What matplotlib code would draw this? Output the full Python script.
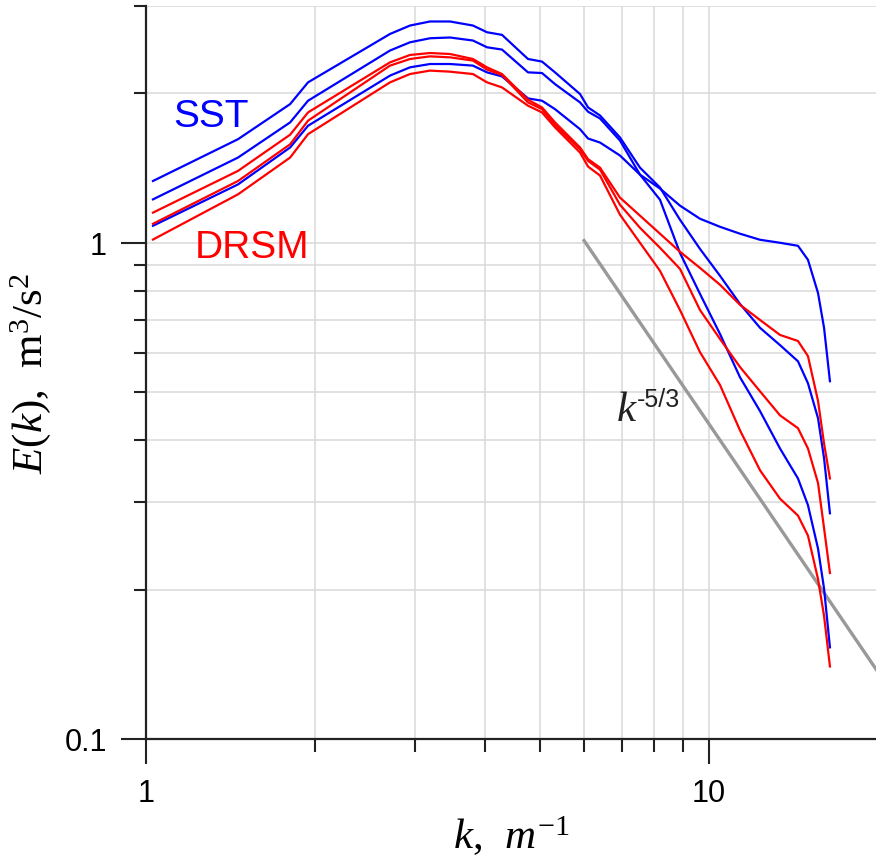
import numpy as np
import matplotlib
matplotlib.use("Agg")
import matplotlib.pyplot as plt
from matplotlib.ticker import LogLocator, NullFormatter, FixedLocator, FixedFormatter

plt.rcParams['mathtext.fontset'] = 'custom'
plt.rcParams['mathtext.rm'] = 'Liberation Serif'
plt.rcParams['mathtext.it'] = 'Liberation Serif:italic'
plt.rcParams['mathtext.sf'] = 'Liberation Sans'

# wavenumber grid shared by all spectra
k = [1.029, 1.457, 1.803, 1.940, 2.713, 2.944, 3.195, 3.467, 3.808, 4.034,
     4.289, 4.770, 5.051, 5.327, 5.901, 6.098, 6.404, 6.949, 7.541, 8.184,
     8.881, 9.638, 10.46, 11.35, 12.32, 13.37, 14.39, 14.99, 15.62, 16.01, 16.40]

# SST runs (blue)
sst_1 = [1.332, 1.617, 1.903, 2.105, 2.635, 2.740, 2.792, 2.792, 2.740, 2.656,
         2.624, 2.346, 2.318, 2.205, 1.994, 1.874, 1.805, 1.630, 1.417, 1.292,
         1.113, 0.972, 0.858, 0.753, 0.674, 0.622, 0.577, 0.521, 0.443, 0.368, 0.285]
sst_2 = [1.223, 1.485, 1.748, 1.933, 2.440, 2.535, 2.583, 2.592, 2.556, 2.477,
         2.451, 2.205, 2.198, 2.088, 1.918, 1.837, 1.780, 1.607, 1.372, 1.221,
         0.954, 0.789, 0.655, 0.536, 0.458, 0.385, 0.335, 0.296, 0.242, 0.201, 0.153]
sst_3 = [1.082, 1.311, 1.556, 1.721, 2.172, 2.257, 2.292, 2.292, 2.275, 2.205,
         2.164, 1.954, 1.933, 1.859, 1.694, 1.622, 1.592, 1.499, 1.372, 1.286,
         1.188, 1.118, 1.077, 1.043, 1.014, 1.000, 0.986, 0.924, 0.792, 0.674, 0.526]

# DRSM runs (red)
drsm_1 = [1.150, 1.396, 1.651, 1.831, 2.310, 2.390, 2.412, 2.401, 2.346, 2.257,
          2.188, 1.942, 1.874, 1.748, 1.556, 1.474, 1.417, 1.233, 1.134, 1.043,
          0.959, 0.890, 0.823, 0.750, 0.699, 0.652, 0.634, 0.591, 0.480, 0.394, 0.335]
drsm_2 = [1.092, 1.332, 1.579, 1.762, 2.275, 2.346, 2.375, 2.364, 2.329, 2.233,
          2.178, 1.918, 1.859, 1.726, 1.543, 1.462, 1.404, 1.193, 1.072, 0.977,
          0.886, 0.732, 0.640, 0.562, 0.502, 0.449, 0.423, 0.385, 0.328, 0.266, 0.216]
drsm_3 = [1.015, 1.252, 1.485, 1.655, 2.105, 2.188, 2.223, 2.212, 2.188, 2.105,
          2.056, 1.889, 1.831, 1.708, 1.520, 1.424, 1.366, 1.139, 1.000, 0.878,
          0.732, 0.602, 0.517, 0.419, 0.348, 0.305, 0.282, 0.257, 0.210, 0.177, 0.140]

# k^-5/3 reference line end points
k_ref = [6.0, 20.0]
e_ref = [1.01, 0.136]

fig = plt.figure(figsize=(8.76, 8.62), dpi=100)
ax = fig.add_axes([146/876, 122/862, 730/876, 733/862])

ax.set_xscale('log')
ax.set_yscale('log')
ax.set_xlim(1, 19.8)
ax.set_ylim(0.1, 3)

ax.grid(True, which='both', color='#d9d9d9', lw=1.1, zorder=0)
ax.set_axisbelow(True)

for s in [sst_1, sst_2, sst_3]:
    ax.plot(k, s, color='#0000ff', lw=1.6, zorder=3)
for s in [drsm_1, drsm_2, drsm_3]:
    ax.plot(k, s, color='#ff0000', lw=1.6, zorder=3)
ax.plot(k_ref, e_ref, color='#999999', lw=2.4, zorder=2)

ax.text(1.117, 1.72, 'SST', color='#0000ff', fontsize=28, family='Liberation Sans')
ax.text(1.222, 0.935, 'DRSM', color='#ff0000', fontsize=28, family='Liberation Sans')
ax.text(6.85, 0.44, 'k', fontsize=31, style='italic', family='Liberation Serif', color='#222222')
ax.text(7.45, 0.468, '-5/3', fontsize=18, family='Liberation Sans', color='#222222')

for side in ['top', 'right']:
    ax.spines[side].set_visible(False)
for side in ['left', 'bottom']:
    ax.spines[side].set_linewidth(1.6)
    ax.spines[side].set_color('#222222')

ax.xaxis.set_major_locator(FixedLocator([1, 10]))
ax.xaxis.set_major_formatter(FixedFormatter(['1', '10']))
ax.xaxis.set_minor_locator(LogLocator(base=10, subs=np.arange(2, 10)))
ax.xaxis.set_minor_formatter(NullFormatter())
ax.yaxis.set_major_locator(FixedLocator([0.1, 1]))
ax.yaxis.set_major_formatter(FixedFormatter(['0.1', '1']))
ax.yaxis.set_minor_locator(LogLocator(base=10, subs=np.arange(2, 10)))
ax.yaxis.set_minor_formatter(NullFormatter())

ax.tick_params(which='major', direction='out', length=18, width=1.5, color='#222222',
               labelsize=22, pad=10)
ax.tick_params(which='minor', direction='out', length=9, width=1.5, color='#222222')
for lab in ax.get_xticklabels() + ax.get_yticklabels():
    lab.set_family('Liberation Sans')

ax.set_xlabel(r'$k$,  $m^{-1}$', fontsize=31, family='Liberation Serif', labelpad=4)
ax.set_ylabel(r'$E(k)$,  m$^{3}$/s$^{2}$', fontsize=31, family='Liberation Serif', labelpad=8)

fig.savefig('out.png', dpi=100)
